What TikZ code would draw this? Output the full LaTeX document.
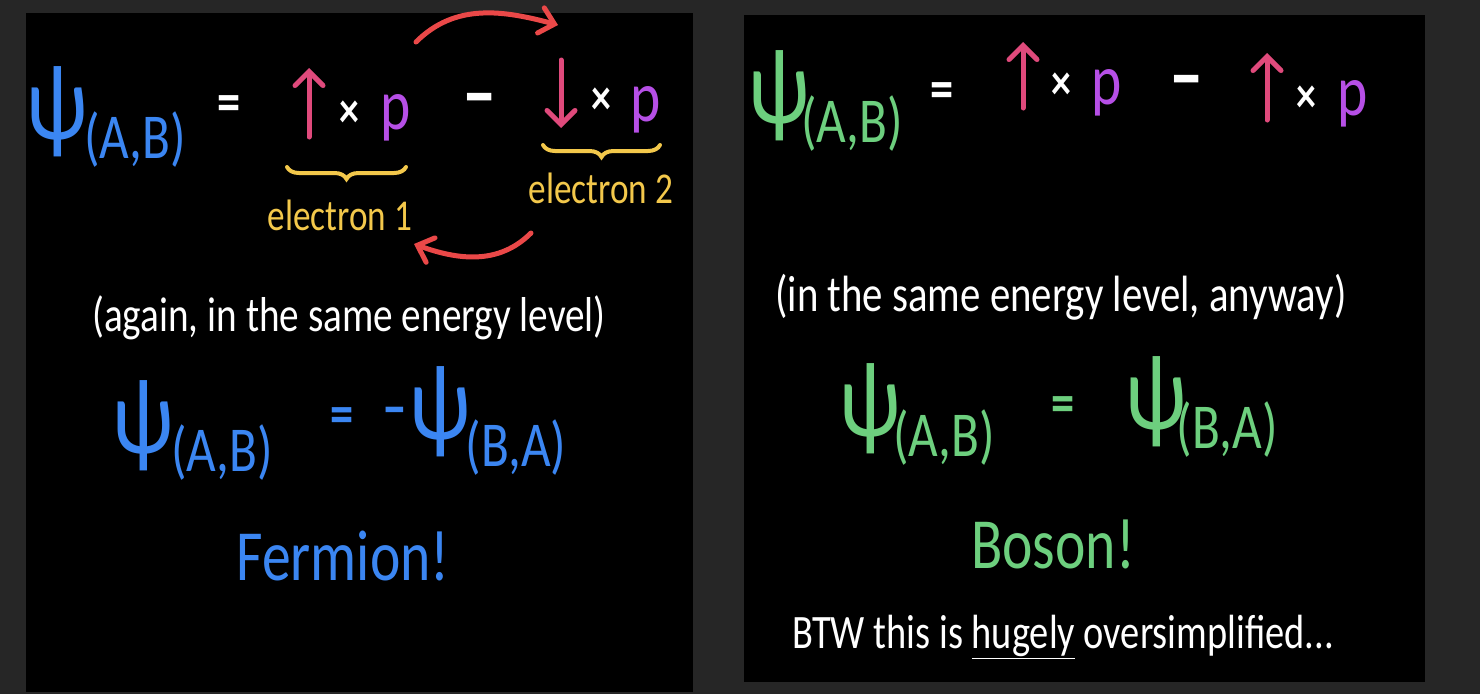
\documentclass[tikz,border=0pt]{standalone}
\usepackage{fontspec}
\setmainfont[FakeStretch=0.8]{Carlito}
\usetikzlibrary{arrows.meta, decorations.pathreplacing}

\definecolor{bggray}{HTML}{262626}
\definecolor{psiblue}{HTML}{3B86F2}
\definecolor{psigreen}{HTML}{6DCF7E}
\definecolor{spinpink}{HTML}{E04A7C}
\definecolor{ppurple}{HTML}{B64FE6}
\definecolor{labyellow}{HTML}{F3C84B}
\definecolor{swapred}{HTML}{EA4848}

\newcommand{\handfont}[1]{\fontsize{#1}{#1}\selectfont}

\begin{document}
\begin{tikzpicture}[x=1pt, y=-1pt,
        panel/.style={fill=black},
        txt/.style={inner sep=0pt, text=white, font=\handfont{49}},
        psi/.style={inner sep=0pt, font=\handfont{108}},
        sub/.style={inner sep=0pt, font=\handfont{64}},
        op/.style={inner sep=0pt, text=white, font=\handfont{58}\bfseries},
        cross/.style={inner sep=0pt, text=white, font=\handfont{50}\bfseries},
        minus/.style={inner sep=0pt, text=white, font=\handfont{86}\bfseries},
        pmom/.style={inner sep=0pt, text=ppurple, font=\handfont{72}},
        big/.style={inner sep=0pt, font=\handfont{72}},
        elab/.style={inner sep=0pt, text=labyellow, font=\handfont{44}},
        spin/.style={draw=spinpink, line width=5pt, line cap=round, -{Straight Barb[length=14pt, width=28pt, line cap=round]}},
        swap/.style={draw=swapred, line width=5pt, line cap=round, -{Straight Barb[length=14pt, width=26pt, line cap=round]}},
        grp/.style={draw=labyellow, line width=4pt, line cap=round, decorate, decoration={brace, amplitude=12pt, mirror}}
    ]
        % --- background and the two panels ---
        \fill[bggray] (0,0) rectangle (1480,694);
        \fill[panel] (26,13) rectangle (693,692);
        \fill[panel] (744,15) rectangle (1425,682);

        % --- Left panel: antisymmetric combination ---
        \node[psi, text=psiblue] (psiL1) at (57,112) {ψ};
        \node[sub, text=psiblue] (subL1) at (135,140) {(A,B)};
        \node[op] (eqL1) at (229,109) {=};
        \coordinate (upL1b) at (309,137);
        \coordinate (upL1t) at (309,68);
        \draw[spin] (upL1b) -- (upL1t);
        \node[cross] (crossL1) at (349,114) {×};
        \node[pmom] (pL1) at (396,118) {p};
        \node[minus] (minusL) at (480,107) {--};
        \coordinate (dnL2t) at (561,60);
        \coordinate (dnL2b) at (561,128);
        \draw[spin] (dnL2t) -- (dnL2b);
        \node[cross] (crossL2) at (601,101) {×};
        \node[pmom] (pL2) at (646,110) {p};

        % --- braces and labels ---
        \coordinate (br1a) at (287,167);
        \coordinate (br1b) at (406,167);
        \draw[grp] (br1a) -- (br1b);
        \node[elab] (e1) at (340,215) {electron 1};
        \coordinate (br2a) at (543,145);
        \coordinate (br2b) at (660,145);
        \draw[grp] (br2a) -- (br2b);
        \node[elab] (e2) at (601,188) {electron 2};

        % --- exchange arrows ---
        \coordinate (swapTa) at (416,42);
        \coordinate (swapTb) at (558,25);
        \draw[swap] (swapTa) to[out=45, in=165] (swapTb);
        \coordinate (swapBa) at (531,233);
        \coordinate (swapBb) at (414,244);
        \draw[swap] (swapBa) to[out=225, in=-20] (swapBb);

        \node[txt] (noteL) at (349,318) {(again, in the same energy level)};

        \node[psi, text=psiblue] (psiL2) at (143,426) {ψ};
        \node[sub, text=psiblue] (subL2) at (222,453) {(A,B)};
        \node[op, text=psiblue] (eqL2) at (342,421) {=};
        \node[minus, font=\handfont{62}\bfseries, text=psiblue] (negL) at (395,417) {--};
        \node[psi, text=psiblue] (psiL3) at (440,412) {ψ};
        \node[sub, text=psiblue] (subL3) at (516,448) {(B,A)};

        \node[big, text=psiblue] (fermion) at (343,556) {Fermion!};

        % --- Right panel: symmetric combination ---
        \node[psi, text=psigreen] (psiR1) at (779,96) {ψ};
        \node[sub, text=psigreen] (subR1) at (852,124) {(A,B)};
        \node[op] (eqR1) at (942,96) {=};
        \coordinate (upR1b) at (1023,108);
        \coordinate (upR1t) at (1023,42);
        \draw[spin] (upR1b) -- (upR1t);
        \node[cross] (crossR1) at (1061,86) {×};
        \node[pmom] (pR1) at (1107,93) {p};
        \node[minus] (minusR) at (1187,89) {--};
        \coordinate (upR2b) at (1267,120);
        \coordinate (upR2t) at (1267,53);
        \draw[spin] (upR2b) -- (upR2t);
        \node[cross] (crossR2) at (1306,99) {×};
        \node[pmom] (pR2) at (1353,104) {p};

        \node[txt, font=\handfont{51}] (noteR) at (1061,297) {(in the same energy level, anyway)};

        \node[psi, text=psigreen] (psiR2) at (870,409) {ψ};
        \node[sub, text=psigreen] (subR2) at (944,438) {(A,B)};
        \node[op, text=psigreen] (eqR2) at (1063,410) {=};
        \node[psi, text=psigreen] (psiR3) at (1156,402) {ψ};
        \node[sub, text=psigreen] (subR3) at (1227,430) {(B,A)};

        \node[big, text=psigreen] (boson) at (1053,544) {Boson!};

        \node[txt, font=\handfont{48}] (btw) at (1063,637) {BTW this is \underline{hugely} oversimplified...};
    \end{tikzpicture}
\end{document}
